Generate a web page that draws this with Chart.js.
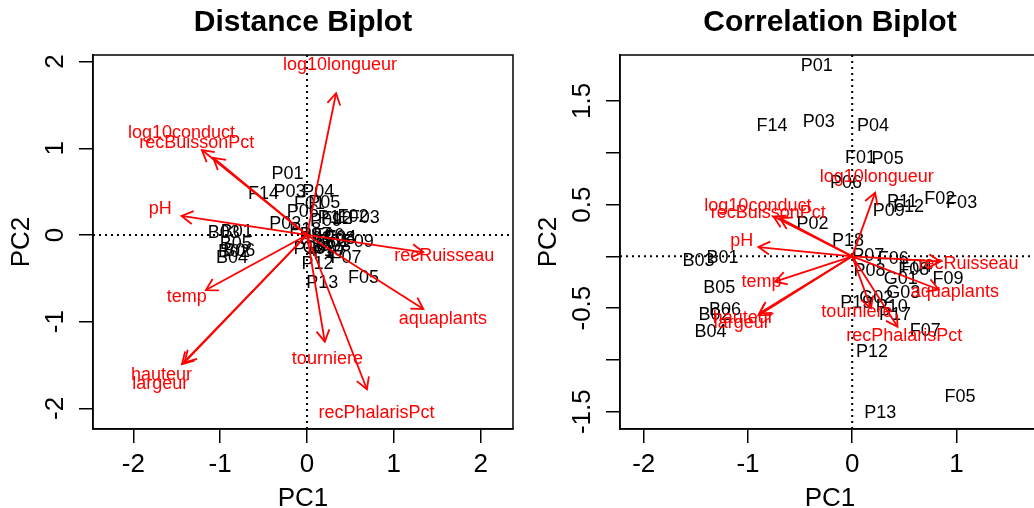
<!DOCTYPE html>
<html>
<head>
<meta charset="utf-8">
<script src="https://cdn.jsdelivr.net/npm/chart.js@4.4.1/dist/chart.umd.min.js"></script>
<style>
    html, body { margin: 0; padding: 0; background: #fff; overflow: hidden; width: 1034px; height: 508px; }
    .panel { position: absolute; top: 0; width: 517px; height: 508px; }
</style>
</head>
<body>
<div class="panel" style="left:0px"><canvas id="dist" width="517" height="508"></canvas></div>
<div class="panel" style="left:527px"><canvas id="corr" width="517" height="508"></canvas></div>
<script>
// Site labels (same order in both biplots)
const siteNames = ['P01', 'F14', 'P03', 'P04', 'F01', 'P05', 'P06', 'P11', 'F12', 'P09',
    'F02', 'F03', 'P02', 'P18', 'P07', 'F06', 'P08', 'F04', 'F08', 'F09',
    'G01', 'G03', 'G02', 'P19', 'P10', 'P17', 'F07', 'P12', 'P13', 'F05',
    'B03', 'B01', 'B05', 'B06', 'B02', 'B04'];

// Distance biplot, site scores
const distSiteX = [-0.225, -0.50, -0.20, 0.13, 0.03, 0.20, -0.05, 0.30, 0.34, 0.22,
    0.53, 0.66, -0.25, -0.02, 0.10, 0.25, 0.10, 0.39, 0.38, 0.59,
    0.30, 0.31, 0.145, 0.03, 0.24, 0.26, 0.45, 0.12, 0.175, 0.65,
    -0.96, -0.81, -0.82, -0.78, -0.84, -0.865];
const distSiteY = [0.70, 0.475, 0.50, 0.49, 0.36, 0.37, 0.27, 0.20, 0.18, 0.165,
    0.21, 0.20, 0.13, 0.06, 0.0, -0.01, -0.05, -0.035, -0.05, -0.08,
    -0.08, -0.13, -0.15, -0.165, -0.18, -0.21, -0.27, -0.34, -0.56, -0.50,
    0.02, 0.03, -0.10, -0.18, -0.20, -0.27];

// Correlation biplot, site scores
const corrSiteX = [-0.34, -0.77, -0.32, 0.20, 0.08, 0.34, -0.06, 0.48, 0.54, 0.35,
    0.84, 1.05, -0.38, -0.04, 0.155, 0.395, 0.165, 0.62, 0.59, 0.92,
    0.465, 0.49, 0.23, 0.04, 0.38, 0.41, 0.70, 0.19, 0.27, 1.035,
    -1.475, -1.245, -1.275, -1.22, -1.32, -1.36];
const corrSiteY = [1.835, 1.26, 1.30, 1.26, 0.95, 0.94, 0.71, 0.52, 0.48, 0.44,
    0.55, 0.51, 0.31, 0.15, 0.0, -0.025, -0.14, -0.10, -0.13, -0.22,
    -0.22, -0.355, -0.405, -0.455, -0.49, -0.565, -0.725, -0.92, -1.51, -1.355,
    -0.05, -0.02, -0.31, -0.52, -0.565, -0.735];

// Variables
const varNames = ['log10longueur', 'log10conduct', 'recBuissonPct', 'pH', 'temp',
    'hauteur', 'largeur', 'tourniere', 'recPhalarisPct', 'aquaplants', 'recRuisseau'];

// Distance biplot: arrow tips and label positions
const distArrowX = [0.335, -1.21, -1.08, -1.445, -1.165, -1.41, -1.44, 0.205, 0.69, 1.34, 1.34];
const distArrowY = [1.635, 0.98, 0.89, 0.22, -0.635, -1.47, -1.49, -1.23, -1.78, -0.855, -0.20];
const distLabelX = [0.38, -1.445, -1.27, -1.69, -1.385, -1.675, -1.69, 0.235, 0.80, 1.565, 1.58];
const distLabelY = [1.96, 1.18, 1.065, 0.295, -0.72, -1.615, -1.72, -1.435, -2.055, -0.975, -0.24];

// Correlation biplot: arrow tips and label positions
const corrArrowX = [0.22, -0.755, -0.695, -0.90, -0.74, -0.89, -0.90, 0.18, 0.435, 0.83, 0.845];
const corrArrowY = [0.615, 0.385, 0.37, 0.09, -0.245, -0.55, -0.57, -0.50, -0.68, -0.32, -0.05];
const corrLabelX = [0.235, -0.905, -0.805, -1.06, -0.87, -1.045, -1.06, 0.045, 0.50, 0.985, 1.115];
const corrLabelY = [0.765, 0.49, 0.42, 0.145, -0.25, -0.60, -0.64, -0.535, -0.77, -0.345, -0.07];

// Axes
const distXTicks = [-2, -1, 0, 1, 2];
const distYTicks = [-2, -1, 0, 1, 2];
const distYLabels = ['-2', '-1', '0', '1', '2'];
const corrXTicks = [-2, -1, 0, 1];
const corrYTicks = [-1.5, -1, -0.5, 0, 0.5, 1, 1.5];
const corrYLabels = ['-1.5', '', '-0.5', '', '0.5', '', '1.5'];

const FONT = '"Liberation Sans", Arial, Helvetica, sans-serif';
const RED = '#ff0000';

/**
 * Plugin drawing the R-style extras: dotted zero lines, text labels,
 * arrow heads, box, rotated y tick labels and axis titles
 */
function biplotPlugin(p) {
    'use strict';
    return {
        id: 'biplot',
        beforeDatasetsDraw: function(chart) {
            const ctx = chart.ctx;
            const a = chart.chartArea;
            const x = chart.scales.x;
            const y = chart.scales.y;
            ctx.save();
            // dotted lines through origin
            ctx.strokeStyle = '#000';
            ctx.lineWidth = 2;
            ctx.setLineDash([2, 4]);
            ctx.beginPath();
            ctx.moveTo(a.left, y.getPixelForValue(0));
            ctx.lineTo(a.right, y.getPixelForValue(0));
            ctx.moveTo(x.getPixelForValue(0), a.top);
            ctx.lineTo(x.getPixelForValue(0), a.bottom);
            ctx.stroke();
            ctx.setLineDash([]);
            // site names
            ctx.beginPath();
            ctx.rect(a.left, a.top, a.right - a.left, a.bottom - a.top);
            ctx.clip();
            ctx.fillStyle = '#000';
            ctx.font = '18px ' + FONT;
            ctx.textAlign = 'center';
            ctx.textBaseline = 'middle';
            for (let i = 0; i < siteNames.length; ++i) {
                ctx.fillText(siteNames[i],
                    x.getPixelForValue(p.siteX[i]), y.getPixelForValue(p.siteY[i]));
            }
            ctx.restore();
        },
        afterDatasetsDraw: function(chart) {
            const ctx = chart.ctx;
            const x = chart.scales.x;
            const y = chart.scales.y;
            const ox = x.getPixelForValue(0);
            const oy = y.getPixelForValue(0);
            ctx.save();
            ctx.strokeStyle = RED;
            ctx.fillStyle = RED;
            ctx.lineWidth = 1.8;
            const len = 13;
            const ang = Math.PI / 6;
            for (let i = 0; i < varNames.length; ++i) {
                const tx = x.getPixelForValue(p.arrowX[i]);
                const ty = y.getPixelForValue(p.arrowY[i]);
                const t = Math.atan2(ty - oy, tx - ox);
                ctx.beginPath();
                ctx.moveTo(tx - len * Math.cos(t - ang), ty - len * Math.sin(t - ang));
                ctx.lineTo(tx, ty);
                ctx.lineTo(tx - len * Math.cos(t + ang), ty - len * Math.sin(t + ang));
                ctx.stroke();
            }
            ctx.font = '18px ' + FONT;
            ctx.textAlign = 'center';
            ctx.textBaseline = 'middle';
            for (let i = 0; i < varNames.length; ++i) {
                ctx.fillText(varNames[i],
                    x.getPixelForValue(p.labelX[i]), y.getPixelForValue(p.labelY[i]));
            }
            ctx.restore();
        },
        afterDraw: function(chart) {
            const ctx = chart.ctx;
            const a = chart.chartArea;
            const y = chart.scales.y;
            ctx.save();
            ctx.strokeStyle = '#000';
            ctx.lineWidth = 1.5;
            ctx.strokeRect(a.left, a.top, a.right - a.left, a.bottom - a.top);
            ctx.fillStyle = '#000';
            ctx.font = '26px ' + FONT;
            ctx.textAlign = 'center';
            ctx.textBaseline = 'alphabetic';
            // rotated y tick labels
            for (let i = 0; i < p.yTicks.length; ++i) {
                if (!p.yLabels[i]) continue;
                ctx.save();
                ctx.translate(a.left - 30, y.getPixelForValue(p.yTicks[i]));
                ctx.rotate(-Math.PI / 2);
                ctx.fillText(p.yLabels[i], 0, 0);
                ctx.restore();
            }
            // axis titles
            ctx.fillText('PC1', (a.left + a.right) / 2, 506);
            ctx.save();
            ctx.translate(a.left - 64, (a.top + a.bottom) / 2);
            ctx.rotate(-Math.PI / 2);
            ctx.fillText('PC2', 0, 0);
            ctx.restore();
            ctx.restore();
        },
    };
}

function makeBiplot(id, p) {
    'use strict';
    const datasets = [{
        label: 'sites',
        data: p.siteX.map((v, i) => ({x: v, y: p.siteY[i]})),
        pointRadius: 0,
        showLine: false,
    }];
    for (let i = 0; i < varNames.length; ++i) {
        datasets.push({
            label: varNames[i],
            data: [{x: 0, y: 0}, {x: p.arrowX[i], y: p.arrowY[i]}],
            showLine: true,
            borderColor: RED,
            borderWidth: 1.8,
            pointRadius: 0,
        });
    }
    return new Chart(document.getElementById(id), {
        type: 'scatter',
        data: {datasets: datasets},
        options: {
            responsive: false,
            animation: false,
            layout: {padding: {left: 0, right: 4, top: 0, bottom: 0}},
            scales: {
                x: {
                    type: 'linear',
                    min: p.xMin,
                    max: p.xMax,
                    afterBuildTicks: s => { s.ticks = p.xTicks.map(v => ({value: v})); },
                    afterFit: s => { s.height = 79; },
                    ticks: {
                        color: '#000',
                        font: {size: 26, family: FONT},
                        padding: 6,
                        maxRotation: 0,
                        callback: v => String(v),
                    },
                    grid: {
                        drawOnChartArea: false,
                        tickLength: 14,
                        color: '#000',
                        lineWidth: 1.5,
                    },
                    border: {display: true, color: '#000', width: 1.5},
                },
                y: {
                    type: 'linear',
                    min: p.yMin,
                    max: p.yMax,
                    afterBuildTicks: s => { s.ticks = p.yTicks.map(v => ({value: v})); },
                    afterFit: s => { s.width = 93; },
                    ticks: {display: false},
                    grid: {
                        drawOnChartArea: false,
                        tickLength: 14,
                        color: '#000',
                        lineWidth: 1.5,
                    },
                    border: {display: true, color: '#000', width: 1.5},
                },
            },
            plugins: {
                legend: {display: false},
                tooltip: {enabled: false},
                title: {
                    display: true,
                    text: p.title,
                    fullSize: false,
                    color: '#000',
                    font: {size: 30, weight: 'bold', family: FONT, lineHeight: 1.2},
                    padding: {top: 4.4, bottom: 14.6},
                },
            },
        },
        plugins: [biplotPlugin(p)],
    });
}

makeBiplot('dist', {
    title: 'Distance Biplot',
    siteX: distSiteX, siteY: distSiteY,
    arrowX: distArrowX, arrowY: distArrowY,
    labelX: distLabelX, labelY: distLabelY,
    xMin: -2.465, xMax: 2.373, yMin: -2.238, yMax: 2.076,
    xTicks: distXTicks, yTicks: distYTicks, yLabels: distYLabels,
});

makeBiplot('corr', {
    title: 'Correlation Biplot',
    siteX: corrSiteX, siteY: corrSiteY,
    arrowX: corrArrowX, arrowY: corrArrowY,
    labelX: corrLabelX, labelY: corrLabelY,
    xMin: -2.228, xMax: 1.802, yMin: -1.667, yMax: 1.944,
    xTicks: corrXTicks, yTicks: corrYTicks, yLabels: corrYLabels,
});
</script>
</body>
</html>
